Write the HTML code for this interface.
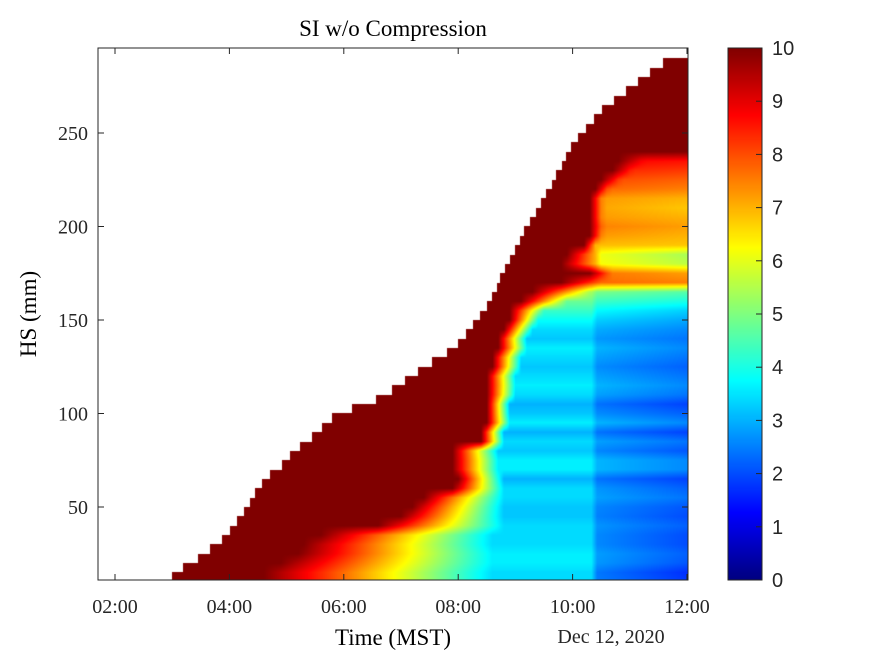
<!DOCTYPE html>
<html><head><meta charset="utf-8"><style>
html,body{margin:0;padding:0;background:#fff;width:875px;height:656px;overflow:hidden}
#wrap{position:relative;width:875px;height:656px}
canvas{position:absolute}
svg{position:absolute;left:0;top:0}
</style></head><body>
<div id="wrap">
<canvas id="hm" width="590" height="532" style="left:98px;top:48px"></canvas>
<canvas id="cb" width="34" height="532" style="left:728px;top:48px"></canvas>
<svg id="ov" width="875" height="656"></svg>
</div>
<script>
// snow height steps: time (decimal hours MST) and HS top (mm)
const hsTime=[3.00,3.19,3.45,3.66,3.87,4.01,4.13,4.26,4.36,4.45,4.57,4.71,4.92,5.06,5.23,5.44,5.62,5.79,6.14,6.56,6.84,7.07,7.30,7.54,7.80,8.00,8.14,8.26,8.38,8.50,8.59,8.68,8.73,8.82,8.91,8.99,9.08,9.15,9.26,9.36,9.45,9.53,9.64,9.71,9.81,9.88,9.97,10.09,10.23,10.37,10.51,10.72,10.93,11.14,11.35,11.58];
const hsTop=[15,20,25,30,35,40,45,50,55,60,65,70,75,80,85,90,95,100,105,110,115,120,125,130,135,140,145,150,155,160,165,170,175,180,185,190,195,200,205,210,215,220,225,230,235,240,245,250,255,260,265,270,275,280,285,290];
// layer heights (mm) and SI evolution parameters
const layerH=[10,15,20,25,30,35,40,45,50,55,60,65,70,75,80,85,90,95,100,105,110,115,120,125,130,135,140,145,150,155,160,165,170,175,180,185,190,195,200,205,210,215,220,225,230,235,240];
const fadeStart=[4.6,4.6,4.9,5.2,5.3,5.6,6.6,7.0,7.2,7.4,7.9,8.0,7.9,7.9,7.9,8.4,8.4,8.5,8.5,8.5,8.5,8.5,8.5,8.6,8.6,8.7,8.7,8.8,8.9,8.9,9.1,9.3,9.8,10.3,9.8,9.9,10.2,10.3,10.3,10.3,10.3,10.3,10.4,10.5,10.7,10.8,99];
const fadeEnd=[8.6,8.6,8.6,8.6,8.6,8.6,8.8,8.8,8.8,8.8,8.8,8.8,8.7,8.7,8.7,8.8,8.8,8.9,8.9,8.9,9.0,9.0,9.0,9.1,9.1,9.2,9.2,9.3,9.4,9.5,9.9,10.3,10.4,10.6,10.4,10.4,10.4,10.5,10.5,10.5,10.5,10.5,10.6,10.8,11.0,11.2,99.5];
const siMid=[3.4,3.4,3.6,3.6,3.4,3.4,3.4,3.2,3.2,3.4,3.4,3.0,3.6,3.6,3.2,3.4,3.0,3.6,3.2,3.0,3.4,3.6,3.4,3.2,3.4,3.6,3.2,3.4,3.8,4.3,4.8,5.4,8.0,8.0,7.0,7.0,7.0,7.5,7.8,7.5,7.5,7.5,8.0,8.2,8.5,8.8,10];
const siEnd=[1.8,1.7,2.1,2.2,2.0,2.0,2.2,2.0,2.1,2.4,2.2,1.9,2.6,2.6,2.1,2.4,1.9,2.6,2.2,1.9,2.4,2.6,2.4,2.2,2.4,2.6,2.4,2.6,2.9,3.3,4.0,4.6,7.5,7.2,5.6,5.4,6.8,7.0,7.2,7.0,6.8,7.0,7.5,7.8,8.2,8.6,10];
const xTicks=[2,4,6,8,10,12];
const xTickLabels=["02:00","04:00","06:00","08:00","10:00","12:00"];
const yTicks=[50,100,150,200,250];
const cTicks=[0,1,2,3,4,5,6,7,8,9,10];

const X0=98,X1=688,Y0=48,Y1=580;
const xs=t=>115+(t-2)*57.2;
const xinv=x=>2+(x-115)/57.2;
const ys=h=>600.5-h*1.87;
const yinv=y=>(600.5-y)/1.87;

function jet(f){f=Math.max(0,Math.min(1,f));
 const c=x=>Math.max(0,Math.min(1,1.5-Math.abs(4*f-x)));
 return [c(3)*255,c(2)*255,c(1)*255];}
function rowVal(i,t){
 const a=fadeStart[i],b=fadeEnd[i],m=siMid[i],e=siEnd[i];
 let v;
 if(t<a) v=10;
 else if(t<b) v=10+(m-10)*(t-a)/(b-a);
 else v=m;
 const td=Math.max(10.33,b);
 if(t>td){const d=m-e;const q=Math.min(1,(t-td)/0.1);v=m-d*0.55*q-d*0.45*Math.min(1,(t-td)/(12-td+0.01));}
 return v;
}
function topAt(t){let r=-1;for(let i=0;i<hsTime.length;i++){if(hsTime[i]<=t)r=hsTop[i];}return r;}

const hm=document.getElementById('hm'),ctx=hm.getContext('2d');
const img=ctx.createImageData(590,532);
for(let px=0;px<590;px++){
 const t=xinv(X0+px+0.5);const top=topAt(t);
 const vals=layerH.map((_,i)=>rowVal(i,t));
 for(let py=0;py<532;py++){
  const h=yinv(Y0+py+0.5);const k=(py*590+px)*4;
  if(top<0||h>top){img.data[k]=255;img.data[k+1]=255;img.data[k+2]=255;img.data[k+3]=255;continue;}
  let v;
  if(h<=layerH[0]) v=vals[0];
  else if(h>=layerH[layerH.length-1]) v=vals[vals.length-1];
  else{let j=0;while(layerH[j+1]<h)j++;const f=(h-layerH[j])/(layerH[j+1]-layerH[j]);v=vals[j]*(1-f)+vals[j+1]*f;}
  const c=jet(v/10);
  img.data[k]=c[0];img.data[k+1]=c[1];img.data[k+2]=c[2];img.data[k+3]=255;
 }
}
ctx.putImageData(img,0,0);

const cb=document.getElementById('cb'),cc=cb.getContext('2d');
for(let py=0;py<532;py++){const c=jet(1-(py+0.5)/532);cc.fillStyle=`rgb(${c[0]|0},${c[1]|0},${c[2]|0})`;cc.fillRect(0,py,34,1);}

const NS='http://www.w3.org/2000/svg';const svg=document.getElementById('ov');
function el(tag,attrs,txt){const e=document.createElementNS(NS,tag);for(const k in attrs)e.setAttribute(k,attrs[k]);if(txt!==undefined)e.textContent=txt;svg.appendChild(e);return e;}
const serif='"Liberation Serif", serif',sans='"Liberation Sans", sans-serif';
let e;
e=el('rect',{x:X0,y:Y0,width:X1-X0,height:Y1-Y0,fill:'none',stroke:'#262626','stroke-width':1});


xTicks.forEach((t,i)=>{const x=xs(t);
 e=el('line',{x1:x,y1:Y1,x2:x,y2:Y1-6,stroke:'#262626'});
 
 
 e=el('line',{x1:x,y1:Y0,x2:x,y2:Y0+6,stroke:'#262626'});
 
 
 e=el('text',{x:x,y:613,'text-anchor':'middle','font-family':serif,'font-size':20,fill:'#262626'},xTickLabels[i]);
 
 
});
yTicks.forEach(h=>{const y=ys(h);
 e=el('line',{x1:X0,y1:y,x2:X0+6,y2:y,stroke:'#262626'});
 
 
 e=el('line',{x1:X1,y1:y,x2:X1-6,y2:y,stroke:'#262626'});
 
 
 e=el('text',{x:88,y:y+7,'text-anchor':'end','font-family':serif,'font-size':20,fill:'#262626'},String(h));
 
 
});
e=el('rect',{x:728,y:48,width:34,height:532,fill:'none',stroke:'#262626'});


cTicks.forEach(v=>{const y=580-v*53.2;
 e=el('line',{x1:756,y1:y,x2:762,y2:y,stroke:'#262626'});
 
 
 e=el('text',{x:772,y:y+7,'font-family':sans,'font-size':20,fill:'#262626'},String(v));
 
 
});
e=el('text',{x:393,y:36,'text-anchor':'middle','font-family':serif,'font-size':23,fill:'#000'},'SI w/o Compression');


e=el('text',{x:393,y:645,'text-anchor':'middle','font-family':serif,'font-size':23,fill:'#000'},'Time (MST)');


e=el('text',{x:611,y:643,'text-anchor':'middle','font-family':serif,'font-size':20,fill:'#262626'},'Dec 12, 2020');


e=el('text',{x:0,y:0,'text-anchor':'middle','font-family':serif,'font-size':23,fill:'#000',transform:'translate(36,314) rotate(-90)'},'HS (mm)');


</script>
</body></html>
